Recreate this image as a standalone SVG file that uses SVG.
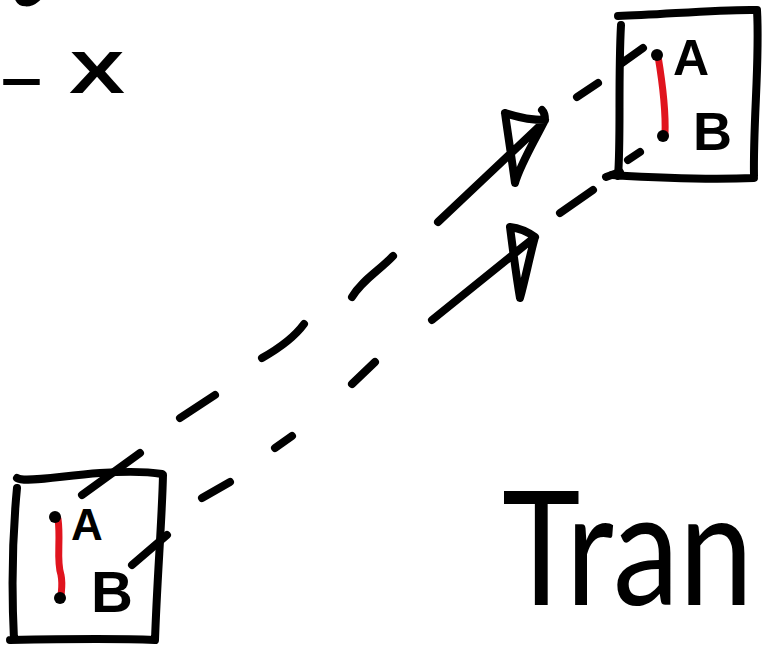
<svg xmlns="http://www.w3.org/2000/svg" width="767" height="650" viewBox="0 0 767 650">
<style>
.ink{fill:none;stroke:#000;stroke-width:8;stroke-linecap:round;stroke-linejoin:round}
.red{fill:none;stroke:#e0141e;stroke-width:7;stroke-linecap:round}
.dot{fill:#000}
.lbl{font-family:"Liberation Sans",Arial,sans-serif;font-weight:bold;fill:#000}
.hand{font-family:Lato,"Open Sans","DejaVu Sans",sans-serif;font-weight:400;fill:#000}
</style>
<rect width="767" height="650" fill="#fff"/>
<path d="M17,0 C20,6 30,7 38,0 Z" fill="#000" stroke="#000" stroke-width="3"/>
<g id="label-x">
<text class="lbl" x="1" y="98" font-size="60" textLength="41" lengthAdjust="spacingAndGlyphs">–</text>
<text class="lbl" x="69" y="93" font-size="60" textLength="56" lengthAdjust="spacingAndGlyphs">X</text>
</g>
<g id="connectors">
<path class="ink" d="M82,495 L140,453 M180,418 L215,395 M262,358 C285,345 296,335 304,324 M352,297 C362,280 380,270 393,256 M577,97 L598,83 M622,63 L643,48"/>
<path class="ink" d="M132,565 L167,535 M202,498 L230,482 M275,448 L292,436 M352,384 L375,362 M560,213 L593,190 M606,177 L620,172 M628,160 L640,152"/>
<path class="ink" d="M438,222 L543,123 M505,113 C520,118 532,120 545,120 C545,116 544,112 542,110 M545,120 C535,140 520,165 515,183 C512,160 508,135 505,113"/>
<path class="ink" d="M432,320 L535,237 M510,227 C518,228 528,232 535,237 C530,255 525,280 520,298 C516,275 513,250 510,227"/>
</g>
<g id="node-top">
<path class="ink" d="M618,16 C660,15 720,9 757,10 M757,10 C760,60 753,120 754,176 M612,175 C660,178 710,180 754,178 M621,25 C618,80 621,140 618,176"/>
<path class="red" d="M658,56 C662,80 666,110 665,135"/>
<circle class="dot" cx="657" cy="55" r="6"/>
<circle class="dot" cx="663" cy="136" r="6"/>
<text class="lbl" x="673" y="75" font-size="50">A</text>
<text class="lbl" x="693" y="150" font-size="54">B</text>
</g>
<g id="node-bottom">
<path class="ink" d="M17,478 C25,483 60,476 100,473 C130,471 150,472 162,474 M163,475 C162,520 157,580 155,640 M10,640 C60,639 110,638 155,640 M17,488 C12,540 12,600 14,640"/>
<path class="red" d="M58,519 C61,540 56,560 61,575 C63,585 61,592 61,597"/>
<circle class="dot" cx="55" cy="517" r="6"/>
<circle class="dot" cx="60" cy="598" r="6"/>
<text class="lbl" x="71" y="540" font-size="44">A</text>
<text class="lbl" x="91" y="612" font-size="58">B</text>
</g>
<g id="label-tran" transform="translate(502,605) scale(0.83,1)">
<text class="hand" x="0" y="0" font-size="160">Tran</text>
</g>
</svg>
